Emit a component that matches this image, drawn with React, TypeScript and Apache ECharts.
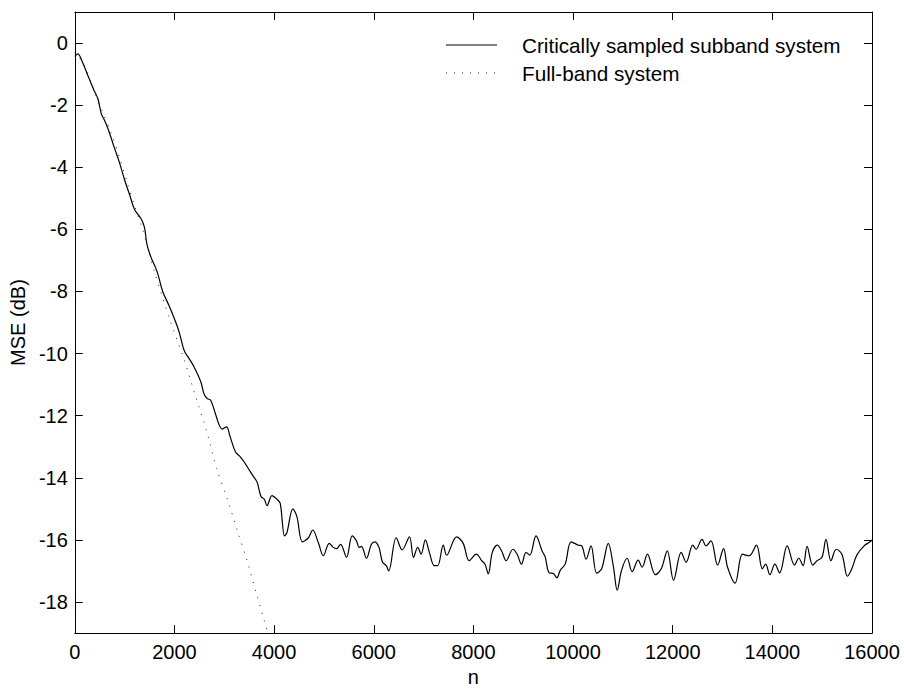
import React, { useEffect, useRef } from "react";
import * as echarts from "echarts";

const SERIES_NAMES = ["Critically sampled subband system", "Full-band system"];
const X_AXIS_NAME = "n";
const Y_AXIS_NAME = "MSE (dB)";

const X_MIN = 0;
const X_MAX = 16000;
const X_INTERVAL = 2000;
const Y_MIN = -19;
const Y_MAX = 1;
const yTickValues = [-18, -16, -14, -12, -10, -8, -6, -4, -2, 0];

// Critically sampled subband system
const subbandN = [
  0, 60, 150, 266, 380, 465, 532, 600, 665, 798, 898, 998, 1097, 1197, 1330, 1397, 1450, 1530, 1596, 1662,
  1762, 1895, 2028, 2095, 2195, 2294, 2394, 2527, 2594, 2660, 2727, 2827, 2893, 2959, 3046, 3112, 3226, 3326,
  3425, 3525, 3591, 3657, 3737, 3804, 3857, 3957, 4057, 4123, 4209, 4256, 4376, 4456, 4569, 4689, 4775, 4888,
  4988, 5107, 5187, 5254, 5334, 5454, 5567, 5653, 5707, 5753, 5853, 5953, 6020, 6105, 6172, 6252, 6299, 6451,
  6571, 6717, 6797, 6883, 6950, 7036, 7116, 7216, 7282, 7395, 7462, 7662, 7795, 7915, 8060, 8166, 8233, 8299,
  8379, 8479, 8565, 8658, 8792, 8878, 8964, 9057, 9131, 9257, 9377, 9443, 9510, 9610, 9676, 9742, 9842, 9962,
  10109, 10175, 10262, 10361, 10474, 10574, 10707, 10807, 10887, 10973, 11086, 11186, 11306, 11386, 11492,
  11652, 11771, 11891, 12017, 12170, 12270, 12403, 12469, 12589, 12668, 12768, 12901, 13021, 13101, 13253,
  13400, 13533, 13680, 13799, 13865, 13951, 14051, 14145, 14298, 14444, 14530, 14617, 14697, 14810, 14897,
  14997, 15076, 15176, 15282, 15396, 15508, 15595, 15695, 15841, 15961, 16000,
];
const subbandMse = [
  -0.43, -0.35, -0.6, -1.06, -1.5, -1.8, -2.28, -2.5, -2.75, -3.39, -3.86, -4.4, -4.87, -5.35, -5.66, -5.93,
  -6.5, -6.9, -7.14, -7.41, -7.99, -8.47, -9.0, -9.31, -9.9, -10.16, -10.43, -10.9, -11.3, -11.45, -11.5,
  -11.96, -12.28, -12.43, -12.36, -12.65, -13.17, -13.33, -13.55, -13.81, -13.97, -14.13, -14.6, -14.69,
  -14.9, -14.57, -14.69, -14.82, -15.87, -15.77, -15.0, -15.24, -16.06, -15.93, -15.68, -16.09, -16.51,
  -16.11, -16.24, -16.28, -16.14, -16.56, -15.87, -16.03, -16.24, -16.21, -16.59, -16.14, -16.06, -16.24,
  -16.7, -16.83, -17.0, -15.93, -16.32, -15.9, -16.56, -16.24, -16.46, -16.0, -16.4, -16.83, -16.83, -16.17,
  -16.49, -15.9, -16.11, -16.67, -16.46, -16.67, -16.78, -17.09, -16.4, -16.17, -16.35, -16.67, -16.3,
  -16.46, -16.78, -16.4, -16.49, -15.87, -16.35, -16.56, -17.04, -17.09, -17.22, -16.98, -16.78, -16.06,
  -16.17, -16.19, -16.62, -16.19, -17.07, -16.93, -16.11, -16.83, -17.62, -16.98, -16.59, -17.02, -16.65,
  -16.88, -16.46, -17.12, -16.93, -16.35, -17.3, -16.4, -16.72, -16.17, -16.3, -15.98, -16.19, -16.03,
  -16.81, -16.28, -16.88, -17.39, -16.46, -16.51, -16.17, -16.93, -16.78, -17.12, -16.78, -17.06, -16.19,
  -16.81, -16.59, -16.83, -16.21, -16.81, -16.67, -16.56, -15.98, -16.67, -16.3, -16.46, -17.17, -16.93,
  -16.49, -16.19, -16.06, -16.0,
];

// Full-band system
const fullbandN = [
  0, 100, 200, 362, 532, 732, 898, 1064, 1197, 1350, 1500, 1596, 1895, 2195, 2427, 2647, 2846, 3072, 3259,
  3458, 3657, 3857, 3920,
];
const fullbandMse = [
  -0.3, -0.5, -0.74, -1.43, -2.12, -2.91, -3.7, -4.55, -5.24, -5.95, -6.8, -7.35, -8.85, -10.2, -11.4, -12.5,
  -13.7, -14.73, -15.69, -16.67, -17.8, -18.89, -19.2,
];

const FONT = "'Liberation Sans', Arial, Helvetica, sans-serif";

export default function App() {
  const ref = useRef<HTMLDivElement>(null);

  useEffect(() => {
    if (!ref.current) return;
    const chart = echarts.init(ref.current, undefined, { renderer: "svg" });

    const subbandData = subbandN.map((n, i) => [n, subbandMse[i]]);
    const fullbandData = fullbandN.map((n, i) => [n, fullbandMse[i]]);

    const axisLine = { show: true, onZero: false, lineStyle: { color: "#000", width: 1 } };
    const tick = { show: true, inside: true, length: 8, lineStyle: { color: "#000", width: 1 } };
    const label = { color: "#000", fontSize: 20, fontFamily: FONT };

    chart.setOption({
      animation: false,
      backgroundColor: "#fff",
      grid: { left: 70, top: 12, right: 32, bottom: 49, containLabel: false },
      xAxis: [
        {
          type: "value",
          position: "bottom",
          min: X_MIN,
          max: X_MAX,
          interval: X_INTERVAL,
          name: X_AXIS_NAME,
          nameLocation: "middle",
          nameGap: 30,
          nameTextStyle: { color: "#000", fontSize: 20, fontFamily: FONT },
          axisLine,
          axisTick: tick,
          axisLabel: { ...label, margin: 9, formatter: (v: number) => String(v) },
          splitLine: { show: false },
        },
        {
          type: "value",
          position: "top",
          min: X_MIN,
          max: X_MAX,
          interval: X_INTERVAL,
          axisLine,
          axisTick: tick,
          axisLabel: { show: false },
          splitLine: { show: false },
        },
      ],
      yAxis: [
        {
          type: "value",
          position: "left",
          min: Y_MIN,
          max: Y_MAX,
          name: Y_AXIS_NAME,
          nameLocation: "middle",
          nameGap: 38,
          nameTextStyle: { color: "#000", fontSize: 20, fontFamily: FONT },
          axisLine,
          axisTick: { ...tick, customValues: yTickValues },
          axisLabel: { ...label, margin: 7, customValues: yTickValues, formatter: (v: number) => String(v) },
          splitLine: { show: false },
        },
        {
          type: "value",
          position: "right",
          min: Y_MIN,
          max: Y_MAX,
          axisLine,
          axisTick: { ...tick, customValues: yTickValues },
          axisLabel: { show: false },
          splitLine: { show: false },
        },
      ],
      series: [
        {
          name: SERIES_NAMES[0],
          type: "line",
          xAxisIndex: 0,
          yAxisIndex: 0,
          data: subbandData,
          showSymbol: false,
          symbol: "none",
          smooth: 0.35,
          clip: true,
          lineStyle: { color: "#000", width: 1.2 },
        },
        {
          name: SERIES_NAMES[1],
          type: "line",
          xAxisIndex: 0,
          yAxisIndex: 0,
          data: fullbandData,
          showSymbol: false,
          symbol: "none",
          smooth: 0.3,
          clip: true,
          lineStyle: { color: "#222", width: 1, type: [1, 7] },
        },
      ],
      graphic: [
        {
          type: "line",
          shape: { x1: 446, y1: 45, x2: 497, y2: 45 },
          style: { stroke: "#000", lineWidth: 1.2 },
        },
        {
          type: "text",
          x: 522,
          y: 45,
          style: {
            text: SERIES_NAMES[0],
            fill: "#000",
            fontSize: 20.7,
            fontFamily: FONT,
            verticalAlign: "middle",
          },
        },
        {
          type: "line",
          shape: { x1: 446, y1: 73, x2: 497, y2: 73 },
          style: { stroke: "#222", lineWidth: 1, lineDash: [1, 7] },
        },
        {
          type: "text",
          x: 522,
          y: 73,
          style: {
            text: SERIES_NAMES[1],
            fill: "#000",
            fontSize: 20.7,
            fontFamily: FONT,
            verticalAlign: "middle",
          },
        },
      ],
    });

    return () => chart.dispose();
  }, []);

  return (
    <div
      ref={ref}
      style={{ position: "fixed", left: 0, top: 0, width: 904, height: 692, background: "#fff" }}
    />
  );
}
